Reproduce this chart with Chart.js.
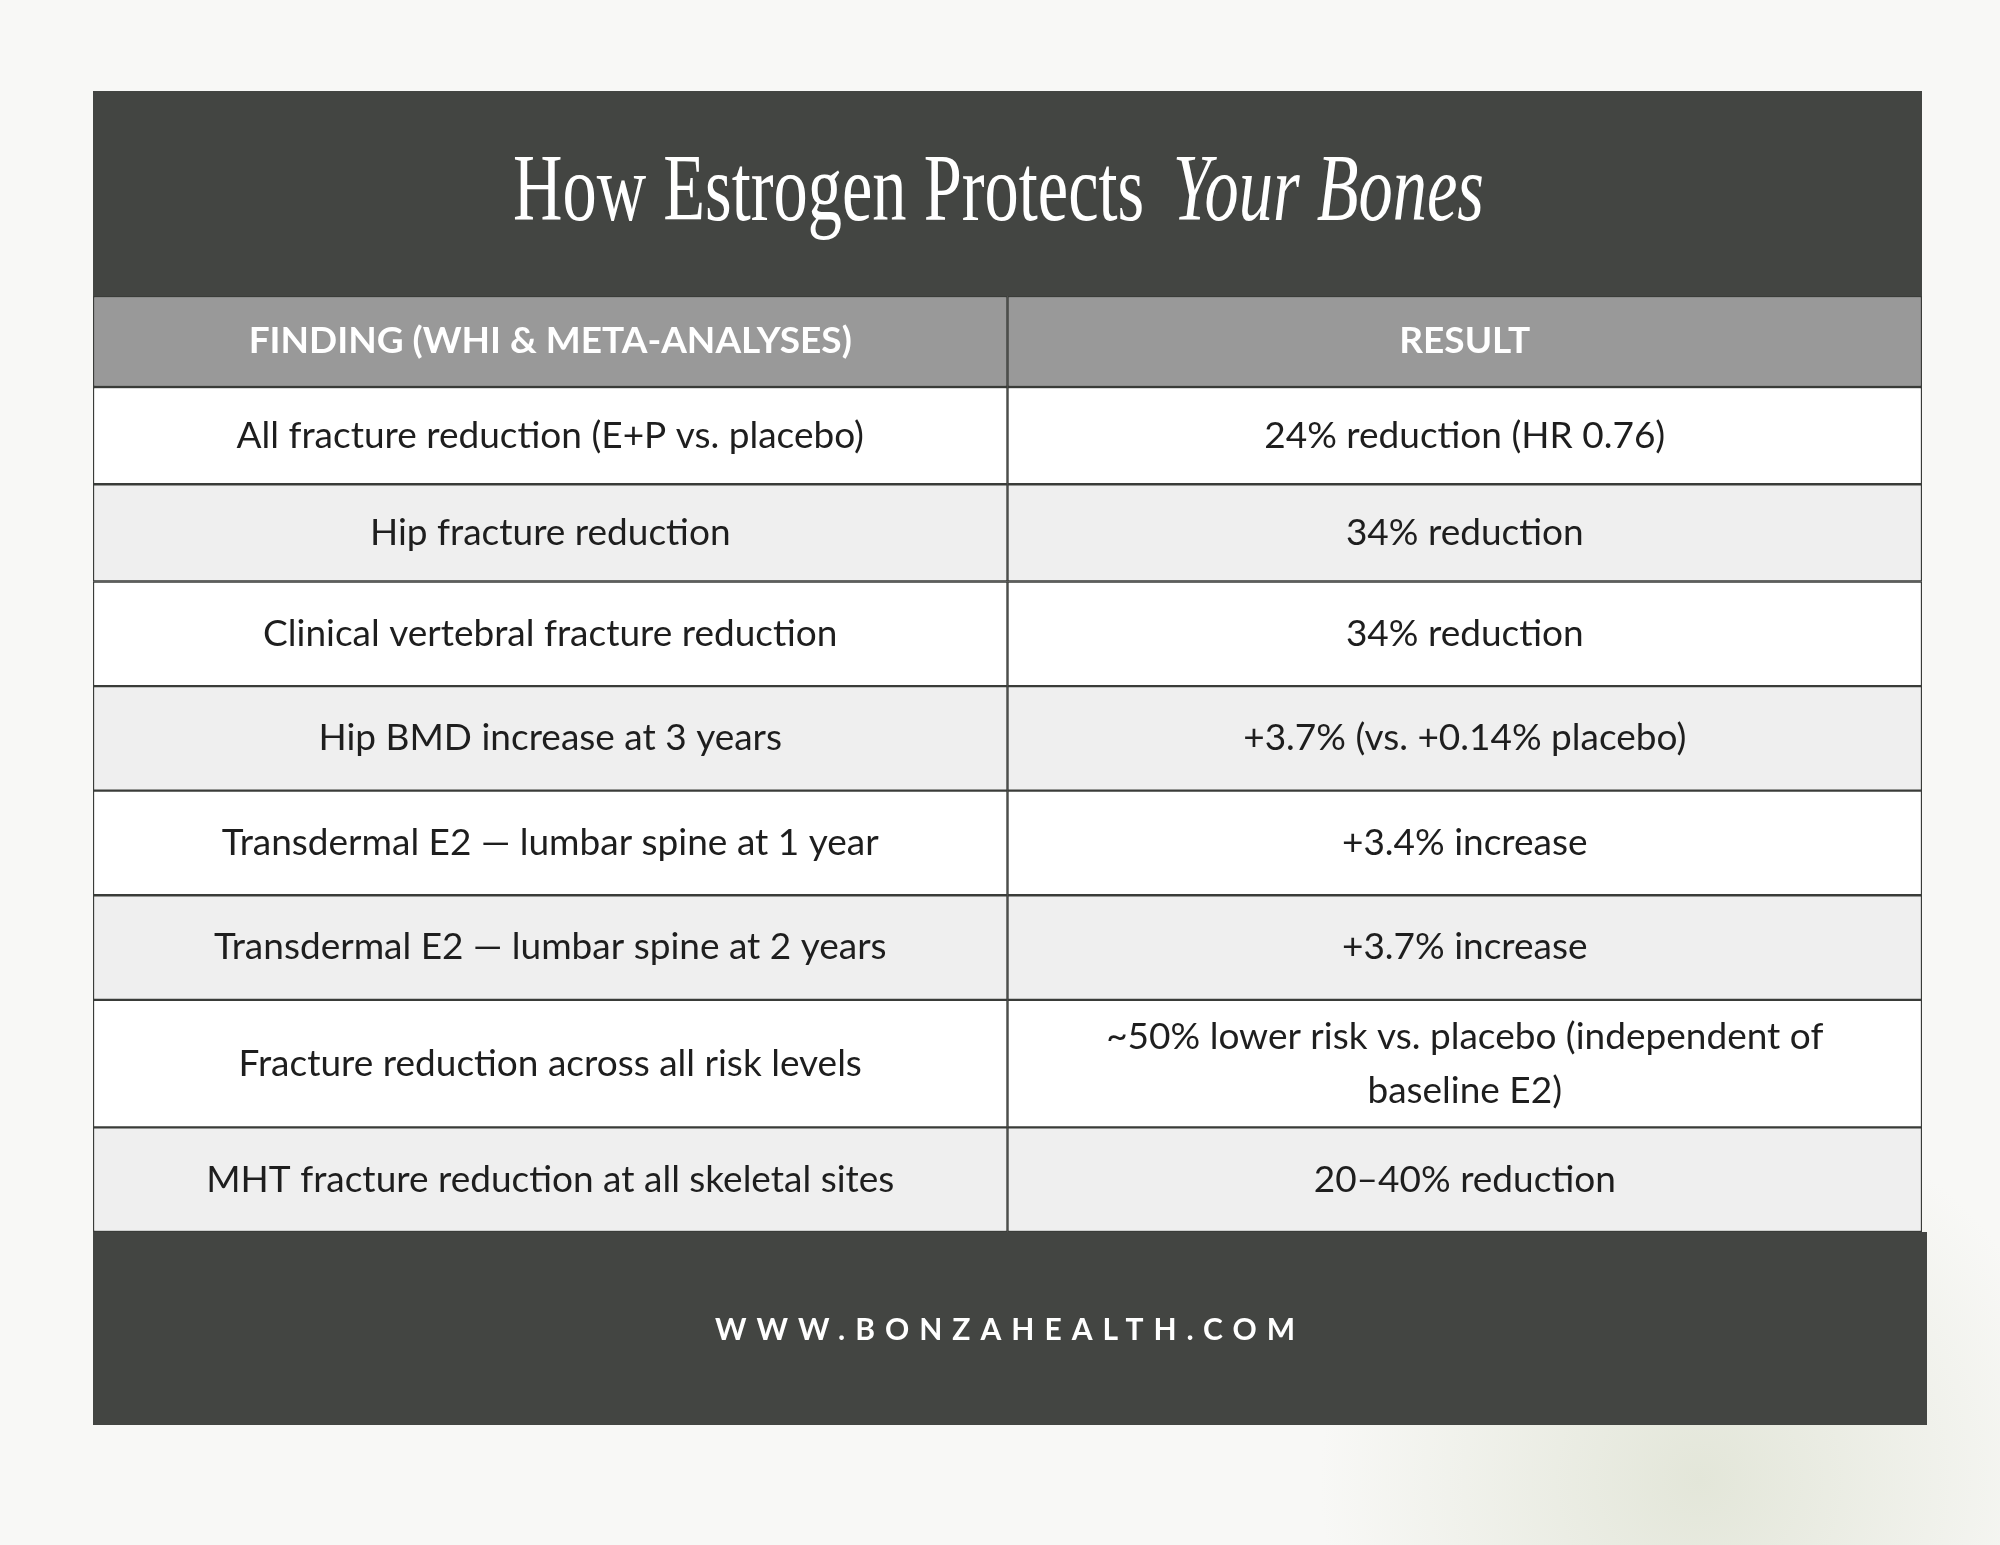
<!DOCTYPE html>
<html>
<head>
<meta charset="utf-8">
<script src="https://cdn.jsdelivr.net/npm/chart.js@4.4.1/dist/chart.umd.min.js"></script>
<style>
  html, body { margin: 0; padding: 0; }
  body {
    width: 2000px; height: 1545px; overflow: hidden;
    background: radial-gradient(circle at 1700px 1480px, #e3e6d9 0, #f8f8f6 380px),
                #f8f8f6;
  }
  #wrap { position: absolute; left: 0; top: 0; width: 2000px; height: 1545px; }
</style>
</head>
<body>
<div id="wrap"><canvas id="table"></canvas></div>
<script>
// ---- data ----
const title      = "How Estrogen Protects";
const titleItal  = "Your Bones";
const headers    = ["FINDING (WHI & META-ANALYSES)", "RESULT"];
const findings   = [
  "All fracture reduction (E+P vs. placebo)",
  "Hip fracture reduction",
  "Clinical vertebral fracture reduction",
  "Hip BMD increase at 3 years",
  "Transdermal E2 \u2014 lumbar spine at 1 year",
  "Transdermal E2 \u2014 lumbar spine at 2 years",
  "Fracture reduction across all risk levels",
  "MHT fracture reduction at all skeletal sites"
];
const results    = [
  "24% reduction (HR 0.76)",
  "34% reduction",
  "34% reduction",
  "+3.7% (vs. +0.14% placebo)",
  "+3.4% increase",
  "+3.7% increase",
  "~50% lower risk vs. placebo (independent of baseline E2)",
  "20\u201340% reduction"
];
// relative row heights (header first)
const rowSpans   = [0.87, 0.93, 0.93, 1, 1, 1, 1, 1.22, 1];
const footer     = "WWW.BONZAHEALTH.COM";

// ---- build row ranges ----
let acc = 0;
const ranges = rowSpans.map(s => { const r = [acc, acc + s]; acc += s; return r; });
const total = acc;
const allRows = [headers].concat(findings.map((f, i) => [f, results[i]]));

const datasets = allRows.map((row, i) => ({
  label: i === 0 ? "header" : "row" + i,
  data: [ranges[i], ranges[i]],
  texts: row,
  backgroundColor: i === 0 ? "#999999" : (i % 2 === 1 ? "#ffffff" : "#efefef"),
  borderColor: "#3a3c39",
  borderWidth: 1.5,
  borderSkipped: false,
  grouped: false,
  barPercentage: 1,
  categoryPercentage: 1
}));

const DARK = "#434542";
const BOX = { x0: 93, x1: 1922, top: 91, bottom: 1425 };

function wrap(ctx, text, maxW) {
  const words = text.split(" ");
  const lines = [];
  let cur = "";
  for (const w of words) {
    const t = cur ? cur + " " + w : w;
    if (ctx.measureText(t).width > maxW && cur) { lines.push(cur); cur = w; }
    else cur = t;
  }
  if (cur) lines.push(cur);
  return lines;
}

const framePlugin = {
  id: "frame",
  beforeDraw(chart) {
    const ctx = chart.ctx;
    const a = chart.chartArea;
    ctx.save();
    ctx.fillStyle = DARK;
    ctx.fillRect(BOX.x0, BOX.top, BOX.x1 - BOX.x0, a.top - BOX.top);
    ctx.fillRect(BOX.x0, a.bottom, BOX.x1 - BOX.x0 + 5, BOX.bottom - a.bottom);

    // title, condensed
    ctx.fillStyle = "#ffffff";
    ctx.textBaseline = "alphabetic";
    const f1 = "300 96px 'Liberation Serif'";
    const f2 = "italic 300 96px 'Liberation Serif'";
    ctx.font = f1; const w1 = ctx.measureText(title).width;
    ctx.font = f2; const w2 = ctx.measureText(titleItal).width;
    const gap = 40;
    const targetW = 971;
    const sx = targetW / (w1 + gap + w2);
    ctx.translate(513, 220);
    ctx.scale(sx, 1);
    ctx.font = f1; ctx.fillText(title, 0, 0);
    ctx.font = f2; ctx.fillText(titleItal, w1 + gap, 0);
    ctx.restore();

    // footer
    ctx.save();
    ctx.fillStyle = "#ffffff";
    ctx.font = "bold 30px Lato";
    ctx.letterSpacing = "10px";
    ctx.textAlign = "center";
    ctx.textBaseline = "middle";
    ctx.fillText(footer, 1010, 1330);
    ctx.restore();
  },
  afterDatasetsDraw(chart) {
    const ctx = chart.ctx;
    ctx.save();
    ctx.textAlign = "center";
    ctx.textBaseline = "middle";
    chart.data.datasets.forEach((ds, i) => {
      const meta = chart.getDatasetMeta(i);
      meta.data.forEach((bar, j) => {
        const cy = (bar.y + bar.base) / 2;
        ctx.font = i === 0 ? "bold 37px Lato" : "37px Lato";
        ctx.fillStyle = i === 0 ? "#ffffff" : "#1e1e1e";
        const lines = wrap(ctx, ds.texts[j], bar.width - 100);
        const lh = 54;
        lines.forEach((ln, k) => {
          ctx.fillText(ln, bar.x, cy + (k - (lines.length - 1) / 2) * lh);
        });
      });
    });
    ctx.restore();
  }
};

Chart.defaults.devicePixelRatio = 1;
new Chart(document.getElementById("table"), {
  type: "bar",
  data: { labels: ["finding", "result"], datasets },
  options: {
    responsive: true,
    maintainAspectRatio: false,
    animation: false,
    layout: { padding: { left: 93, right: 78, top: 296, bottom: 313 } },
    plugins: { legend: { display: false }, tooltip: { enabled: false }, title: { display: false } },
    scales: {
      x: { display: false, offset: true, grid: { display: false } },
      y: { display: false, min: 0, max: total, reverse: true }
    }
  },
  plugins: [framePlugin]
});
</script>
</body>
</html>
